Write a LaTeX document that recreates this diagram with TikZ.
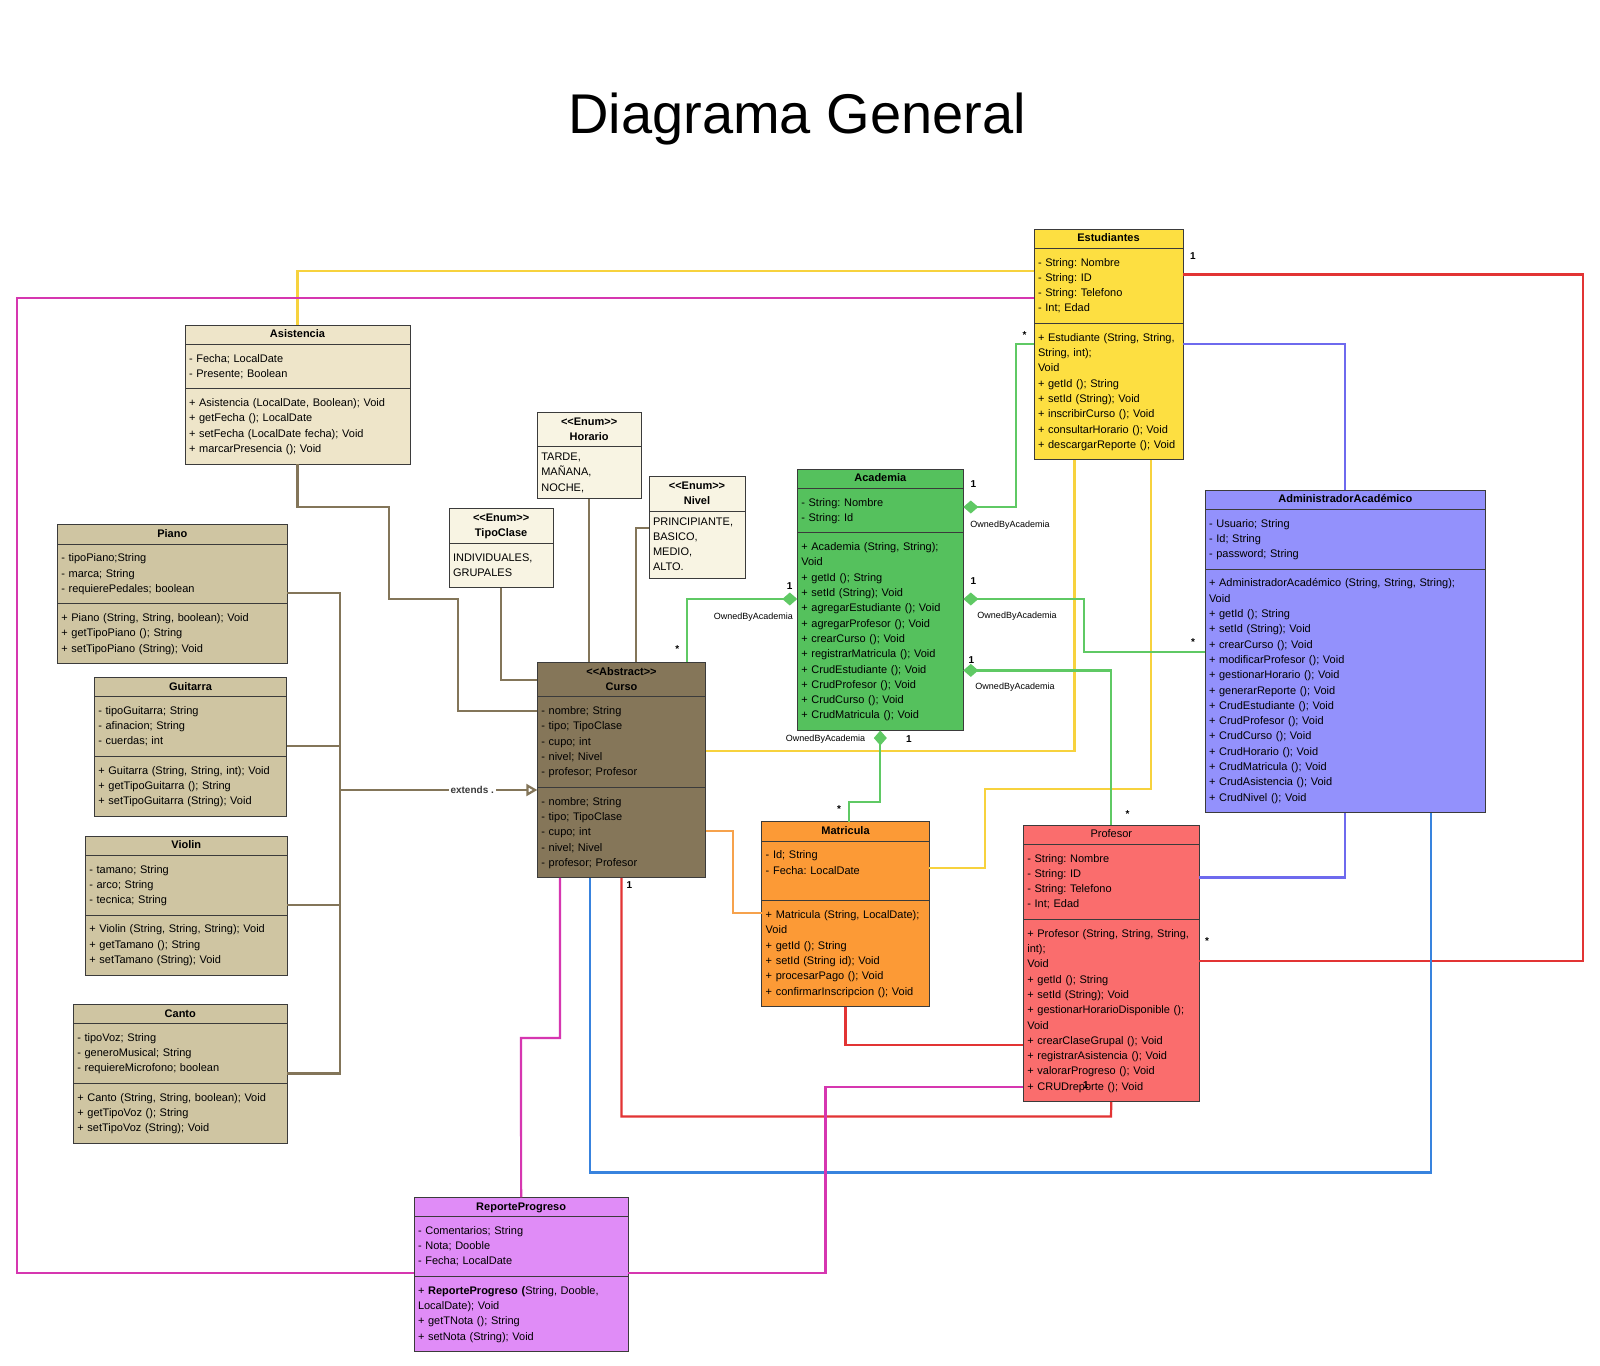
\documentclass[tikz,border=0pt]{standalone}
\usepackage{fontspec}
\setmainfont{Liberation Sans}
\usepackage{xcolor}
\usepackage{tikz}
\usetikzlibrary{positioning,arrows.meta}
\frenchspacing
\definecolor{edge}{HTML}{3B3B3B}
\definecolor{estfill}{HTML}{FDDF41}
\definecolor{asisfill}{HTML}{EEE5C9}
\definecolor{enumfill}{HTML}{F8F4E3}
\definecolor{instfill}{HTML}{CFC5A2}
\definecolor{cursofill}{HTML}{857659}
\definecolor{acafill}{HTML}{55C15D}
\definecolor{admfill}{HTML}{9391FC}
\definecolor{matfill}{HTML}{FC9A36}
\definecolor{proffill}{HTML}{FA6D6D}
\definecolor{repfill}{HTML}{E08CF7}
\definecolor{lyel}{HTML}{F7D23E}
\definecolor{lmag}{HTML}{D636B0}
\definecolor{lred}{HTML}{E23434}
\definecolor{lvio}{HTML}{6E6AEE}
\definecolor{lgrn}{HTML}{5FC964}
\definecolor{lbrn}{HTML}{837559}
\definecolor{lblu}{HTML}{3883DE}
\definecolor{lorg}{HTML}{F6A24C}
\newcommand{\stereo}[1]{<\kern0pt<#1>\kern0pt>}
\tikzset{
  clshead/.style={draw=edge, line width=1pt, outer sep=0pt, inner xsep=4pt, inner ysep=2pt,
    align=center, font=\fontsize{11}{15.3}\selectfont\bfseries,
    execute at begin node=\strut, execute at end node=\strut},
  clsbody/.style={draw=edge, line width=1pt, outer sep=0pt, inner xsep=4pt, inner ysep=7pt,
    align=left, font=\fontsize{11}{15.3}\selectfont,
    execute at begin node=\strut, execute at end node=\strut},
  link/.style={line width=2.2pt},
  own/.style={link, draw=lgrn, {Diamond[length=15pt,width=13pt]}-},
  mult/.style={font=\fontsize{10}{12}\selectfont\bfseries, inner sep=1pt},
  ownlab/.style={font=\fontsize{9}{11}\selectfont, inner sep=1pt},
  diagtitle/.style={font=\fontsize{56}{60}\selectfont},
}
% class box: id, top-left, text width, fill, title, attributes, methods
\newcommand{\umlclass}[7]{%
  \node[clshead, fill=#4, text width=#3, anchor=north west] (#1) at (#2) {#5};
  \node[clsbody, fill=#4, text width=#3, below=0pt of #1] (#1-a) {#6};
  \node[clsbody, fill=#4, text width=#3, below=0pt of #1-a] (#1-m) {#7};
}
% enum box: id, top-left, text width, title, values, padding
\newcommand{\umlenum}[6]{%
  \node[clshead, fill=enumfill, text width=#3, anchor=north west] (#1) at (#2) {#4};
  \node[clsbody, fill=enumfill, text width=#3, inner ysep=#6, below=0pt of #1] (#1-v) {#5};
}

\begin{document}
\begin{tikzpicture}[x=1pt,y=-1pt]
  \fill[white] (0,0) rectangle (1600,1365);
  \useasboundingbox (0,0) rectangle (1600,1365);
  \node[diagtitle, anchor=base] (titulo) at (797,133) {Diagrama General};

  % classes
  \umlclass{est}{1034,229}{141pt}{estfill}{Estudiantes}
    {- String: Nombre\\- String: ID\\- String: Telefono\\- Int; Edad}
    {+ Estudiante (String, String,\\String, int);\\Void\\+ getId (); String\\+ setId (String); Void\\+ inscribirCurso (); Void\\+ consultarHorario (); Void\\+ descargarReporte (); Void}
  \umlclass{asis}{185,325}{217pt}{asisfill}{Asistencia}
    {- Fecha; LocalDate\\- Presente; Boolean}
    {+ Asistencia (LocalDate, Boolean); Void\\+ getFecha (); LocalDate\\+ setFecha (LocalDate fecha); Void\\+ marcarPresencia (); Void}
  \umlenum{hor}{537.3,412.3}{95.7pt}{\stereo{Enum}\\Horario}{TARDE,\\MAÑANA,\\NOCHE,}{3pt}
  \umlenum{tipo}{449,508.7}{96.3pt}{\stereo{Enum}\\TipoClase}{INDIVIDUALES,\\GRUPALES}{7pt}
  \umlenum{niv}{649,476.7}{88pt}{\stereo{Enum}\\Nivel}{PRINCIPIANTE,\\BASICO,\\MEDIO,\\ALTO.}{3pt}
  \umlclass{pia}{57.3,524.7}{222pt}{instfill}{Piano}
    {- tipoPiano;String\\- marca; String\\- requierePedales; boolean}
    {+ Piano (String, String, boolean); Void\\+ getTipoPiano (); String\\+ setTipoPiano (String); Void}
  \umlclass{gui}{94.3,677.3}{184.4pt}{instfill}{Guitarra}
    {- tipoGuitarra; String\\- afinacion; String\\- cuerdas; int}
    {+ Guitarra (String, String, int); Void\\+ getTipoGuitarra (); String\\+ setTipoGuitarra (String); Void}
  \umlclass{vio}{85.3,836}{194pt}{instfill}{Violin}
    {- tamano; String\\- arco; String\\- tecnica; String}
    {+ Violin (String, String, String); Void\\+ getTamano (); String\\+ setTamano (String); Void}
  \umlclass{can}{73.3,1004.3}{206pt}{instfill}{Canto}
    {- tipoVoz; String\\- generoMusical; String\\- requiereMicrofono; boolean}
    {+ Canto (String, String, boolean); Void\\+ getTipoVoz (); String\\+ setTipoVoz (String); Void}
  \umlclass{cur}{537.3,662.3}{160.4pt}{cursofill}{\stereo{Abstract}\\Curso}
    {- nombre; String\\- tipo; TipoClase\\- cupo; int\\- nivel; Nivel\\- profesor; Profesor}
    {- nombre; String\\- tipo; TipoClase\\- cupo; int\\- nivel; Nivel\\- profesor; Profesor}
  \umlclass{aca}{797.3,469}{158pt}{acafill}{Academia}
    {- String: Nombre\\- String: Id}
    {+ Academia (String, String);\\Void\\+ getId (); String\\+ setId (String); Void\\+ agregarEstudiante (); Void\\+ agregarProfesor (); Void\\+ crearCurso (); Void\\+ registrarMatricula (); Void\\+ CrudEstudiante (); Void\\+ CrudProfesor (); Void\\+ CrudCurso (); Void\\+ CrudMatricula (); Void}
  \umlclass{adm}{1205,490}{272.7pt}{admfill}{AdministradorAcadémico}
    {- Usuario; String\\- Id; String\\- password; String}
    {+ AdministradorAcadémico (String, String, String);\\Void\\+ getId (); String\\+ setId (String); Void\\+ crearCurso (); Void\\+ modificarProfesor (); Void\\+ gestionarHorario (); Void\\+ generarReporte (); Void\\+ CrudEstudiante (); Void\\+ CrudProfesor (); Void\\+ CrudCurso (); Void\\+ CrudHorario (); Void\\+ CrudMatricula (); Void\\+ CrudAsistencia (); Void\\+ CrudNivel (); Void}
  \umlclass{mat}{761.7,821.7}{159.6pt}{matfill}{Matricula}
    {- Id; String\\- Fecha: LocalDate\\\mbox{}}
    {+ Matricula (String, LocalDate);\\Void\\+ getId (); String\\+ setId (String id); Void\\+ procesarPago (); Void\\+ confirmarInscripcion (); Void}
  \umlclass{prof}{1023.3,825}{168pt}{proffill}{\mdseries Profesor}
    {- String: Nombre\\- String: ID\\- String: Telefono\\- Int; Edad}
    {+ Profesor (String, String, String,\\int);\\Void\\+ getId (); String\\+ setId (String); Void\\+ gestionarHorarioDisponible ();\\Void\\+ crearClaseGrupal (); Void\\+ registrarAsistencia (); Void\\+ valorarProgreso (); Void\\+ CRUDreporte (); Void}
  \umlclass{rep}{414,1197.3}{206.3pt}{repfill}{ReporteProgreso}
    {- Comentarios; String\\- Nota; Dooble\\- Fecha; LocalDate}
    {+ \textbf{ReporteProgreso (}String, Dooble,\\LocalDate); Void\\+ getTNota (); String\\+ setNota (String); Void}

  % Curso links (brown)
  \draw[link, draw=lbrn] (asis-m.south) |- (389,507) |- (458,599) |- (cur-a.west |- 0,711);
  \draw[link, draw=lbrn] (hor-v.south) -- (hor-v.south |- cur.north);
  \draw[link, draw=lbrn] (tipo-v.south) |- (cur.west);
  \draw[link, draw=lbrn] (niv-v.west |- 0,527.6) -| (cur.north -| 635.7,0);
  % instruments extend Curso
  \draw[link, draw=lbrn] (pia-a.east |- 0,593) -| (340,1073.5) -- (can-a.east |- 0,1073.5);
  \draw[link, draw=lbrn] (gui-a.east |- 0,746) -- (340,746);
  \draw[link, draw=lbrn] (vio-a.east |- 0,905) -- (340,905);
  \draw[link, draw=lbrn, -{Triangle[open,length=11pt,width=12pt]}] (340,790)
    -- node[pos=0.67, fill=white, inner sep=2pt, font=\fontsize{10}{12}\selectfont\bfseries, text=edge] (ext) {extends .}
    (cur-m.west |- 0,790);

  % Estudiantes
  \draw[link, draw=lyel] (est-a.west |- 0,271) -| (asis.north);
  \draw[link, draw=lmag] (est-a.west |- 0,298) -| (17,1273) -- (rep-a.west |- 0,1273);
  \draw[link, draw=lred] (est-a.east |- 0,274.5) -| (1583,961) -- (prof-m.east |- 0,961);
  \draw[link, draw=lvio] (est-m.east |- 0,344) -| (adm.north);
  \draw[link, draw=lyel] (cur-a.east |- 0,751) -| (est-m.south -| 1074.5,0);
  \draw[link, draw=lyel] (mat-a.east |- 0,868) -| (984.7,789) -| (est-m.south -| 1151,0);

  % Academia ownership
  \draw[own] (aca-a.east |- 0,507) -| (1016,344) -- (est-m.west |- 0,344);
  \draw[own] (aca-m.east |- 0,599) -| (1083.7,652) -- (adm-m.west |- 0,652);
  \draw[own] (aca-m.east |- 0,670.4) -| (prof.north);
  \draw[own] (aca-m.west |- 0,599) -| (cur.north -| 686.7,0);
  \draw[own] (aca-m.south) |- (849,802) -- (mat.north -| 849,0);

  % remaining links
  \draw[link, draw=lorg] (cur-m.east |- 0,830.6) -| (732.7,913) -- (mat-m.west |- 0,913);
  \draw[link, draw=lmag] (cur-m.south -| 560,0) |- (521,1038) -- (rep.north);
  \draw[link, draw=lred] (cur-m.south -| 621.5,0) |- (1111,1116.5) -- (prof-m.south);
  \draw[link, draw=lblu] (cur-m.south -| 590,0) |- (1430.6,1172.5) -- (adm-m.south -| 1430.6,0);
  \draw[link, draw=lred] (mat-m.south) |- (prof-m.west |- 0,1045);
  \draw[link, draw=lvio] (prof-a.east |- 0,877.5) -| (adm-m.south);
  \draw[link, draw=lmag] (rep-a.east |- 0,1273) -| (825.5,1087) -- (prof-m.west |- 0,1087);

  % multiplicities
  \node[mult] (m1) at (1193,256) {1};
  \node[mult] (m2) at (1024.5,335) {*};
  \node[mult] (m3) at (973.5,484) {1};
  \node[mult] (m4) at (973.5,581) {1};
  \node[mult] (m5) at (1193,642) {*};
  \node[mult] (m6) at (971.5,660) {1};
  \node[mult] (m7) at (1127.5,814) {*};
  \node[mult] (m8) at (789.7,586) {1};
  \node[mult] (m9) at (677.3,649) {*};
  \node[mult] (m10) at (909,739) {1};
  \node[mult] (m11) at (839,809) {*};
  \node[mult] (m12) at (629.5,885) {1};
  \node[mult] (m13) at (1207,941) {*};
  \node[mult] (m14) at (1086,1085) {1};
  \node[ownlab] (o1) at (1010,525) {OwnedByAcademia};
  \node[ownlab] (o2) at (1017,616) {OwnedByAcademia};
  \node[ownlab] (o3) at (1015,687) {OwnedByAcademia};
  \node[ownlab] (o4) at (753.3,616.7) {OwnedByAcademia};
  \node[ownlab] (o5) at (825.5,739) {OwnedByAcademia};
\end{tikzpicture}
\end{document}
